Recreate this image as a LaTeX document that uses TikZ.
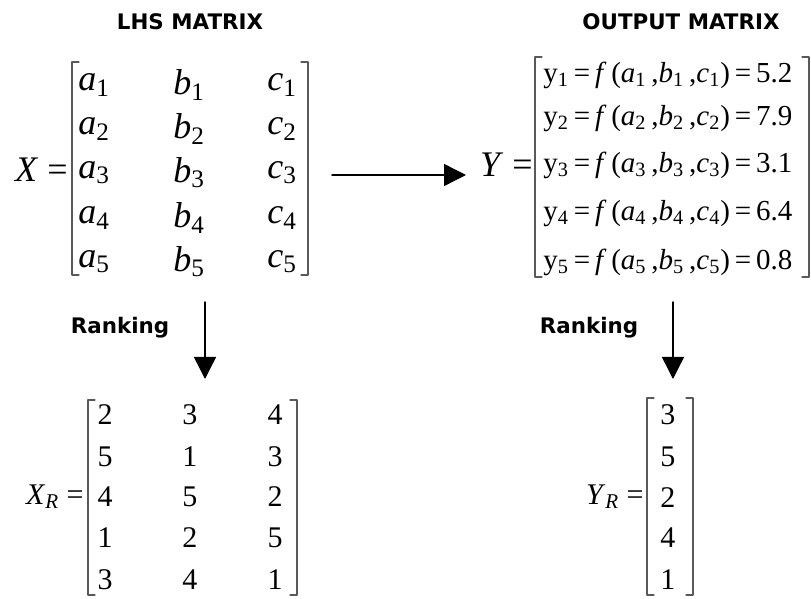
\documentclass[tikz,border=0pt]{standalone}
\usepackage{fontspec}
\setmainfont{Liberation Serif}
\newfontfamily\headfont{DejaVu Sans}
\usetikzlibrary{arrows.meta,positioning}

\newcommand\sv[2]{\textit{#1}\textsubscript{#2}}
\newcommand\yrow[2]{y\textsubscript{#1}\,=\,\textit{f}\,(\sv{a}{#1}\,,\sv{b}{#1}\,,\sv{c}{#1})\,=\,#2}

\tikzset{
  head/.style={font=\headfont\bfseries\fontsize{10.7}{12}\selectfont},
  ent/.style={font=\fontsize{18}{20}\selectfont,inner sep=0pt},
  yent/.style={font=\fontsize{14.5}{17}\selectfont,inner sep=0pt,anchor=west},
  rnk/.style={font=\fontsize{15}{17}\selectfont,inner sep=0pt},
  brak/.style={draw=black!65,line width=0.6pt},
  flow/.style={-{Triangle[length=11pt,width=11pt]},line width=0.7pt},
}

\begin{document}
\begin{tikzpicture}[x=0.5pt,y=-0.5pt,line cap=round,line join=round]
  \useasboundingbox (0,0) rectangle (811,599);
  % titles
  \node[head] (lhstitle) at (190,22) {LHS MATRIX};
  \node[head] (outtitle) at (681,22) {OUTPUT MATRIX};

  % X matrix
  \node[ent,anchor=east] (xlab) at (68,170) {\textit{X} =};
  \draw[brak] (79,62) -- (72,62) -- (72,275) -- (79,275);
  \draw[brak] (301,62) -- (308,62) -- (308,275) -- (301,275);
  \foreach \r/\yy in {1/85,2/129,3/173,4/218,5/262} {
    \node[ent,anchor=west] (xa\r) at (78,\yy) {\sv{a}{\r}};
    \node[ent,anchor=west] (xb\r) at (173,\yy) {\sv{b}{\r}};
    \node[ent,anchor=west] (xc\r) at (267,\yy) {\sv{c}{\r}};
  }

  % Y matrix
  \node[ent,anchor=east] (ylab) at (533,165) {\textit{Y} =};
  \draw[brak] (542,57) -- (535,57) -- (535,277) -- (542,277);
  \draw[brak] (802,57) -- (809,57) -- (809,277) -- (802,277);
  \node[yent] (y1) at (543,75) {\yrow{1}{5.2}};
  \node[yent] (y2) at (543,118) {\yrow{2}{7.9}};
  \node[yent] (y3) at (543,165) {\yrow{3}{3.1}};
  \node[yent] (y4) at (543,213) {\yrow{4}{6.4}};
  \node[yent] (y5) at (543,262) {\yrow{5}{0.8}};

  % arrows
  \coordinate (xout) at (332,175);
  \coordinate (yin) at (466,175);
  \draw[flow] (xout) -- (yin);
  \coordinate (xdown) at (205,302);
  \coordinate (xrin) at (205,379);
  \draw[flow] (xdown) -- (xrin);
  \coordinate (ydown) at (673,302);
  \coordinate (yrin) at (673,379);
  \draw[flow] (ydown) -- (yrin);
  \node[head] (rankx) at (120,328) {Ranking};
  \node[head] (ranky) at (589,328) {Ranking};

  % ranked X
  \node[rnk,anchor=east] (xrlab) at (84,497) {\textit{X}\textsubscript{\textit{R}} =};
  \draw[brak] (95,400) -- (88,400) -- (88,595) -- (95,595);
  \draw[brak] (290,400) -- (297,400) -- (297,595) -- (290,595);
  \foreach \r/\yy/\p/\q/\s in {1/415/2/3/4,2/457/5/1/3,3/497/4/5/2,4/538/1/2/5,5/580/3/4/1} {
    \node[rnk] (xr\r a) at (105,\yy) {\p};
    \node[rnk] (xr\r b) at (190,\yy) {\q};
    \node[rnk] (xr\r c) at (275,\yy) {\s};
  }

  % ranked Y
  \node[rnk,anchor=east] (yrlab) at (644,497) {\textit{Y}\textsubscript{\textit{R}} =};
  \draw[brak] (654,398) -- (647,398) -- (647,595) -- (654,595);
  \draw[brak] (686,398) -- (693,398) -- (693,595) -- (686,595);
  \foreach \r/\yy/\p in {1/415/3,2/457/5,3/498/2,4/538/4,5/580/1} {
    \node[rnk] (yr\r) at (668,\yy) {\p};
  }
\end{tikzpicture}
\end{document}
